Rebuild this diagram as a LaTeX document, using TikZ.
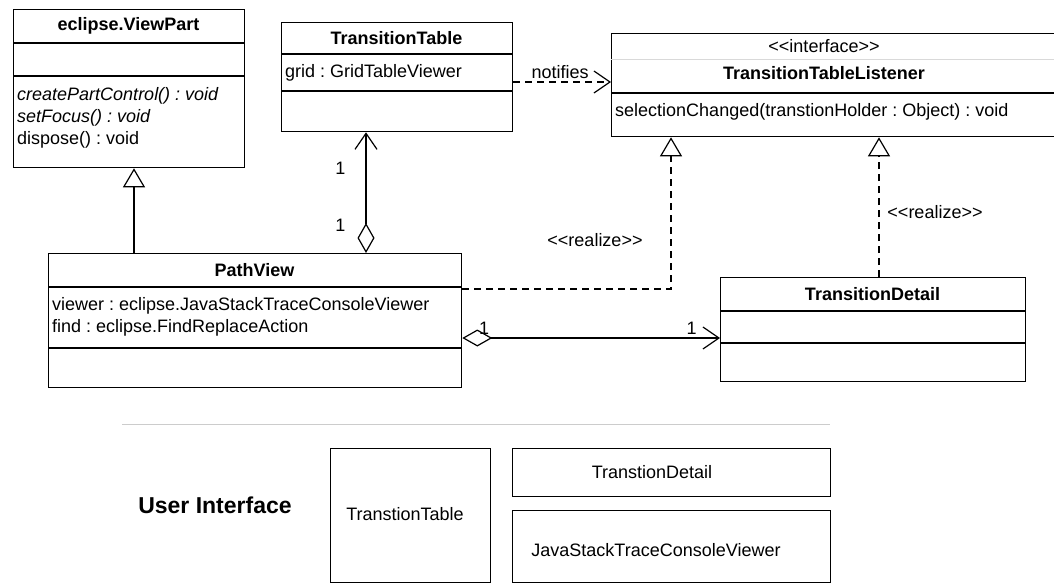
\documentclass[tikz,border=0pt]{standalone}
\usepackage{fontspec}
\setmainfont{Liberation Sans}
\usetikzlibrary{arrows.meta}
\frenchspacing

\newcommand{\stereo}[1]{<\kern0pt<#1>\kern0pt>}

\tikzset{
  umlbox/.style={draw, line width=1.3pt, anchor=north west, inner sep=0pt},
  uibox/.style={draw, line width=1pt, anchor=north west, inner sep=0pt},
  divline/.style={line width=1.3pt},
  txt/.style={inner sep=0pt, font=\fontsize{18}{21}\selectfont},
  attr/.style={txt, anchor=west},
  title/.style={txt, font=\fontsize{18}{21}\selectfont\bfseries},
  mult/.style={inner sep=2pt, font=\fontsize{18}{21}\selectfont},
  gen/.style={line width=1.2pt, -{Triangle[open, length=19pt, width=22pt]}},
  real/.style={gen, dash pattern=on 7pt off 5pt},
  dep/.style={line width=1.2pt, dash pattern=on 7pt off 5pt, -{Straight Barb[length=16pt, width=22pt]}},
  agg/.style={line width=1.2pt, {Diamond[open, length=30pt, width=17pt]}-{Straight Barb[length=16pt, width=22pt]}}
}

\begin{document}
\begin{tikzpicture}[x=1pt, y=-1pt]
  \useasboundingbox (0,0) rectangle (1054,583);
  \clip (0,0) rectangle (1054,583);
  % classes
  \node[umlbox, minimum width=231pt, minimum height=158pt] (vp) at (13,9) {};
  \node[umlbox, minimum width=231pt, minimum height=109pt] (tt) at (281,22) {};
  \node[umlbox, minimum width=445pt, minimum height=103pt] (itf) at (611,33) {};
  \node[umlbox, minimum width=413pt, minimum height=134pt] (pv) at (48,253) {};
  \node[umlbox, minimum width=305pt, minimum height=104pt] (td) at (720,277) {};
  %
  \draw[divline] (vp.west |- 0,43) -- (vp.east |- 0,43);
  \draw[divline] (vp.west |- 0,76) -- (vp.east |- 0,76);
  \draw[divline] (tt.west |- 0,54) -- (tt.east |- 0,54);
  \draw[divline] (tt.west |- 0,91) -- (tt.east |- 0,91);
  \draw[gray!30, line width=0.8pt] (itf.west |- 0,59) -- (itf.east |- 0,59);
  \draw[divline] (itf.west |- 0,93) -- (itf.east |- 0,93);
  \draw[divline] (pv.west |- 0,287) -- (pv.east |- 0,287);
  \draw[divline] (pv.west |- 0,348) -- (pv.east |- 0,348);
  \draw[divline] (td.west |- 0,311) -- (td.east |- 0,311);
  \draw[divline] (td.west |- 0,343) -- (td.east |- 0,343);
  %
  \node[title] (vpname) at (128.5,26) {eclipse.ViewPart};
  \node[attr] (vpop1) at (17,96) {\itshape createPartControl() : void};
  \node[attr] (vpop2) at (17,118) {\itshape setFocus() : void};
  \node[attr] (vpop3) at (17,140) {dispose() : void};
  \node[title] (ttname) at (396.5,38) {TransitionTable};
  \node[attr] (ttattr) at (285,73) {grid : GridTableViewer};
  \node[txt] (itfst) at (824,46) {\stereo{interface}};
  \node[title] (itfname) at (824,73) {TransitionTableListener};
  \node[attr] (itfop) at (615,112) {selectionChanged(transtionHolder : Object) : void};
  \node[title] (pvname) at (254.5,270) {PathView};
  \node[attr] (pvattr1) at (52,306) {viewer : eclipse.JavaStackTraceConsoleViewer};
  \node[attr] (pvattr2) at (52,328) {find : eclipse.FindReplaceAction};
  \node[title] (tdname) at (872.5,294) {TransitionDetail};
  %
  \path[font=\fontsize{18}{21}\selectfont]
  (pv.north -| 366,0) edge[agg] node[mult, pos=0.23, left=18pt]{1} node[mult, pos=0.7, left=18pt]{1} (tt.south -| 366,0)
  (pv.north -| 134,0) edge[gen] (vp.south -| 134,0)
  (tt.east |- 0,82) edge[dep] node[mult, pos=0.48, above=1pt]{notifies} (itf.west |- 0,82)
  (pv.east |- 0,338) edge[agg] node[mult, pos=0.085, above=1pt]{1} node[mult, pos=0.89, above=1pt]{1} (td.west |- 0,338)
  (td.north -| 879,0) edge[real] (itf.south -| 879,0);
  \draw[real] (pv.east |- 0,289) -| (itf.south -| 671,0);
  \node[txt] (real1) at (595,240) {\stereo{realize}};
  \node[txt] (real2) at (935,212) {\stereo{realize}};
  % user interface layout
  \draw[gray!40, line width=1pt] (122,424) coordinate (sepl) -- (830,424) coordinate (sepr);
  \node[txt, font=\fontsize{23}{27}\selectfont\bfseries] (uilabel) at (215,505) {User Interface};
  \node[uibox, minimum width=160pt, minimum height=134pt] (uitable) at (330,448) {};
  \node[uibox, minimum width=318pt, minimum height=48pt] (uidetail) at (512,448) {};
  \node[uibox, minimum width=318pt, minimum height=72pt] (uiconsole) at (512,510) {};
  \node[txt] (uitabletxt) at (405,514) {TranstionTable};
  \node[txt] (uidetailtxt) at (652,472) {TranstionDetail};
  \node[txt] (uiconsoletxt) at (656,550) {JavaStackTraceConsoleViewer};
\end{tikzpicture}
\end{document}
